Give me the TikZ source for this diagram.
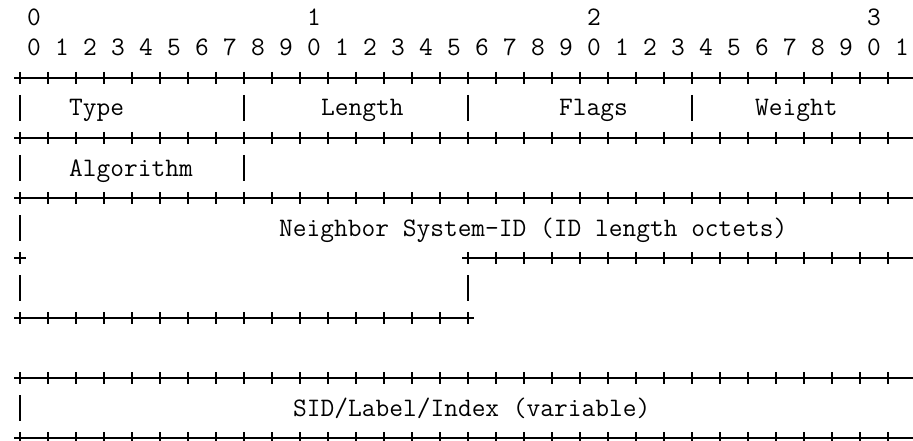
\documentclass[tikz,border=0pt]{standalone}
\usepackage{tikz}

\begin{document}
\begin{tikzpicture}[x=1pt, y=-1pt,
    hline/.style={line width=2pt},
    vbar/.style={line width=2pt},
    txt/.style={anchor=base west, inner sep=0pt,
      font=\ttfamily\fontsize{26.67}{30}\selectfont},
    num/.style={anchor=base, inner sep=0pt,
      font=\ttfamily\fontsize{26.67}{30}\selectfont}]
    \useasboundingbox (0,0) rectangle (913,441);

    % bit numbers
    \node[num] (ten0) at (34,26) {0};
    \node[num] (ten1) at (314,26) {1};
    \node[num] (ten2) at (594,26) {2};
    \node[num] (ten3) at (874,26) {3};
    \foreach \i in {0,...,31} {
      \pgfmathtruncatemacro{\d}{mod(\i,10)}
      \node[num] (bit\i) at (34+28*\i,56) {\d};
    }

    % full rows
    \foreach \row in {78,138,198,378,438} {
      \draw[hline] (14,\row) -- (913,\row);
      \foreach \k in {0,...,31}
        \draw[vbar] (20+28*\k,\row-6) -- (20+28*\k,\row+6);
    }

    \def \row {108}
    \node[txt] (type) at (69,\row+8) {Type};
    \node[txt] (length) at (321,\row+8) {Length};
    \node[txt] (flags) at (559,\row+8) {Flags};
    \node[txt] (weight) at (755,\row+8) {Weight};
    \foreach \x in {20,244,468,692}
      \draw[vbar] (\x,\row-13) -- (\x,\row+13);

    \def \row {168}
    \node[txt] (algo) at (69,\row+8) {Algorithm};
    \foreach \x in {20,244}
      \draw[vbar] (\x,\row-13) -- (\x,\row+13);

    \def \row {228}
    \node[txt] (nbr) at (279,\row+8) {Neighbor System-ID (ID length octets)};
    \draw[vbar] (20,\row-13) -- (20,\row+13);

    \def \row {258}
    \draw[hline] (14,\row) -- (26,\row);
    \draw[vbar] (20,\row-6) -- (20,\row+6);
    \draw[hline] (462,\row) -- (913,\row);
    \foreach \k in {16,...,31}
      \draw[vbar] (20+28*\k,\row-6) -- (20+28*\k,\row+6);

    \def \row {288}
    \foreach \x in {20,468}
      \draw[vbar] (\x,\row-13) -- (\x,\row+13);

    \def \row {318}
    \draw[hline] (14,\row) -- (474,\row);
    \foreach \k in {0,...,16}
      \draw[vbar] (20+28*\k,\row-6) -- (20+28*\k,\row+6);

    \def \row {408}
    \node[txt] (sid) at (293,\row+8) {SID/Label/Index (variable)};
    \draw[vbar] (20,\row-13) -- (20,\row+13);
  \end{tikzpicture}
\end{document}
